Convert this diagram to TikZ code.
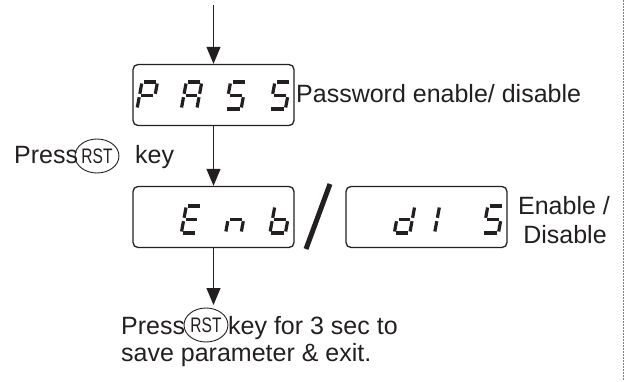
\documentclass[tikz,border=0pt]{standalone}
\usepackage{fontspec}
\setmainfont{Liberation Sans}
\usetikzlibrary{arrows.meta,shapes.geometric}
\definecolor{ink}{RGB}{35,31,32}
\newcommand\dg[3]{\def\dx{#1}\def\dy{#2}#3}
\newcommand\segm[4]{\draw[segline] ({\dx+#1+0.185*#2},{\dy-#2}) -- ({\dx+#3+0.185*#4},{\dy-#4});}
\newcommand\segA{\segm{2}{27}{14}{27}}
\newcommand\segB{\segm{15.5}{25.5}{15.5}{15.2}}
\newcommand\segC{\segm{15.5}{11.8}{15.5}{1.5}}
\newcommand\segD{\segm{1.5}{0}{14}{0}}
\newcommand\segE{\segm{0}{1.5}{0}{11.8}}
\newcommand\segF{\segm{0}{15.2}{0}{25.5}}
\newcommand\segG{\segm{2}{13.5}{13.5}{13.5}}
\begin{document}
\begin{tikzpicture}[x=1pt,y=-1pt,
  every node/.style={text=ink, inner sep=0pt, font=\fontsize{25}{30}\selectfont},
  dispbox/.style={draw=ink, line width=1.3pt, rounded corners=5pt, minimum width=161pt, minimum height=61pt},
  segline/.style={draw=ink, line width=3.2pt, line cap=butt},
  arr/.style={draw=ink, line width=1pt, -{Triangle[length=17pt,width=14pt]}},
  keyring/.style={draw=ink, line width=0.9pt, ellipse, minimum width=38pt, minimum height=34pt}]
\useasboundingbox (0,0) rectangle (625,381);
% display boxes
\node[dispbox] (pass) at (213.5,95) {};
\node[dispbox] (enb) at (213.5,217) {};
\node[dispbox] (dis) at (426.5,217) {};
% digits PASS
\dg{137}{109}{\segA\segB\segF\segG\segE}
\dg{181.3}{109}{\segA\segB\segC\segE\segF\segG}
\dg{225.6}{109}{\segA\segF\segG\segC\segD}
\dg{269.9}{109}{\segA\segF\segG\segC\segD}
% digits Enb
\dg{181.3}{233}{\segA\segF\segG\segE\segD}
\dg{225.6}{233}{\segG\segE\segC}
\dg{269.9}{233}{\segF\segE\segD\segC\segG}
% digits dIS
\dg{394.3}{233}{\segB\segC\segD\segE\segG}
\dg{434.6}{233}{\segE\segF}
\dg{482.9}{233}{\segA\segF\segG\segC\segD}
% slash
\draw[ink, line width=5pt] (306,249) -- (330,184);
% arrows
\coordinate (start) at (213.5,5);
\coordinate (finish) at (213.5,305);
\draw[arr] (start) -- (pass.north);
\draw[arr] (pass.south) -- (enb.north);
\draw[arr] (enb.south) -- (finish);
% texts
\node[anchor=base west] (pw) at (296,102) {Password enable/ disable};
\node[anchor=base west] (p1) at (14,163) {Press};
\node[keyring] (rst1) at (97,156) {\fontsize{21}{21}\selectfont\scalebox{0.74}[1]{RST}};
\node[anchor=base west] (k1) at (135,163) {key};
\node[anchor=base] (en) at (564,214) {Enable /};
\node[anchor=base] (di) at (565,243) {Disable};
\node[anchor=base west] (p2) at (121,334) {Press};
\node[keyring] (rst2) at (206,325) {\fontsize{21}{21}\selectfont\scalebox{0.74}[1]{RST}};
\node[anchor=base west] (k2) at (228,334) {key for 3 sec to};
\node[anchor=base west] (sv) at (121,361) {save parameter \& exit.};
% dotted margin line
\draw[gray, line width=0.9pt, dash pattern=on 1.5pt off 1.5pt] (623.5,0) -- (623.5,381);
\end{tikzpicture}
\end{document}
